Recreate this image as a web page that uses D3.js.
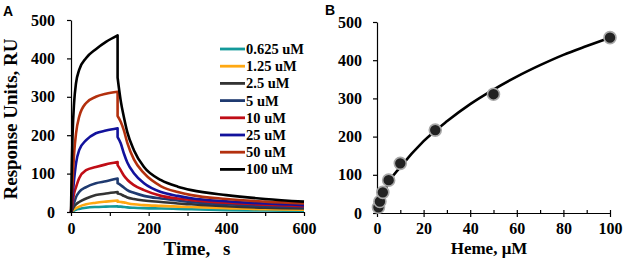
<!DOCTYPE html>
<html>
<head>
<meta charset="utf-8">
<script src="https://cdn.jsdelivr.net/npm/d3@7"></script>
<style>
  html, body { margin: 0; padding: 0; background: #fff; }
  svg text { font-family: "Liberation Serif", "Times New Roman", serif; font-weight: bold; fill: #000; }
</style>
</head>
<body>
<svg id="chart" width="624" height="263"></svg>
<script>
// ---- panel A: sensorgrams ----
const concLabels = ["0.625 uM", "1.25 uM", "2.5 uM", "5 uM", "10 uM", "25 uM", "50 uM", "100 uM"];
const concColors = ["#13999a", "#ffa812", "#333333", "#1f3a70", "#c00d16", "#12129c", "#b3300e", "#000000"];

const assocTimes = [0, 2, 4, 8, 13, 21, 39, 64, 90, 120];
const dissocTimes = [120, 128, 136, 145, 162, 188, 232, 275, 310, 400, 500, 600];

const assocValues = [
    [0, 1, 2, 4, 6, 8, 11, 13, 14, 15],
    [0, 2, 4, 7, 10, 14, 20, 24, 27, 30],
    [0, 3, 7, 14, 20, 26, 35, 44, 48, 52],
    [0, 5, 12, 24, 39, 52, 65, 75, 80, 87],
    [0, 10, 24, 48, 65, 88, 109, 117, 124, 130],
    [0, 20, 42, 85, 127, 161, 187, 205, 212, 218],
    [0, 40, 78, 152, 205, 248, 284, 300, 308, 313],
    [0, 120, 200, 285, 336, 370, 401, 424, 443, 460]
];
const dissocValues = [
    [14, 14, 13, 12, 11, 10, 9, 8, 7, 5, 4, 3],
    [27, 26, 25, 23, 20, 18, 16, 14, 13, 10, 7, 6],
    [48, 46, 42, 38, 34, 30, 26, 22, 20, 15, 11, 9],
    [75, 70, 64, 57, 50, 42, 35, 30, 26, 20, 15, 12],
    [122, 109, 95, 84, 70, 57, 42, 35, 31, 24, 19, 15],
    [195, 179, 153, 129, 101, 75, 52, 42, 36, 28, 22, 18],
    [250, 235, 213, 180, 137, 101, 67, 52, 44, 34, 27, 22],
    [350, 290, 248, 208, 161, 117, 83, 66, 57, 44, 34, 27]
];

const timeTicks = [0, 200, 400, 600];
const ruTicks = [0, 100, 200, 300, 400, 500];

// ---- panel B: binding isotherm ----
const hemeConc = [0.625, 1.25, 2.5, 5, 10, 25, 50, 100];
const hemeResp = [15, 30, 54, 86, 130, 217, 311, 459];
// fitted curve
const fitConc = [0, 1, 2.5, 5, 10, 20, 30, 40, 50, 60, 70, 80, 90, 100];
const fitResp = [0, 22, 45, 80, 120, 188, 240, 285, 323, 357, 387, 414, 437, 459];
const hemeTicks = [0, 20, 40, 60, 80, 100];
const hemeMinor = [10, 30, 50, 70, 90];

const svg = d3.select("#chart");
const serif = "'Liberation Serif', 'Times New Roman', serif";

function styleAxis(ax) {
    ax.attr("font-family", null).attr("font-size", null);
    ax.select(".domain").attr("stroke", "#000").attr("stroke-width", 1.2);
    ax.selectAll(".tick line").attr("stroke", "#000").attr("stroke-width", 1.2);
    ax.selectAll("text")
      .style("font-family", serif)
      .style("font-weight", "bold")
      .style("font-size", "16px")
      .attr("fill", "#000");
}

// ================= panel A =================
const xA = d3.scaleLinear().domain([0, 600]).range([71, 304]);
const yA = d3.scaleLinear().domain([0, 500]).range([212, 20]);

const gA = svg.append("g");

const lineA = d3.line()
    .x(d => xA(d[0]))
    .y(d => yA(d[1]))
    .curve(d3.curveMonotoneX);

concLabels.forEach((lab, i) => {
    const a = assocTimes.map((t, j) => [t, assocValues[i][j]]);
    const b = dissocTimes.map((t, j) => [t, dissocValues[i][j]]);
    const path = lineA(a) + lineA(b).replace(/^M/, "L");
    gA.append("path")
      .attr("d", path)
      .attr("fill", "none")
      .attr("stroke", concColors[i])
      .attr("stroke-width", 2.6)
      .attr("stroke-linejoin", "round");
});

const axAx = gA.append("g")
    .attr("transform", `translate(0,${yA(0)})`)
    .call(d3.axisBottom(xA).tickValues(d3.range(0, 601, 100)).tickSize(4).tickSizeOuter(0).tickPadding(7)
        .tickFormat(d => timeTicks.includes(d) ? d : ""));
const axAy = gA.append("g")
    .attr("transform", `translate(${xA(0)},0)`)
    .call(d3.axisLeft(yA).tickValues(ruTicks).tickSize(4).tickSizeOuter(0).tickPadding(12));
styleAxis(axAx);
styleAxis(axAy);

gA.append("text")
  .attr("transform", "translate(17,119) rotate(-90)")
  .attr("text-anchor", "middle")
  .attr("font-size", 19)
  .text("Response Units, RU");

gA.append("text")
  .attr("x", 197)
  .attr("y", 255)
  .attr("text-anchor", "middle")
  .attr("font-size", 19)
  .attr("word-spacing", 8)
  .text("Time, s");

// legend
const legend = gA.append("g");
concLabels.forEach((lab, i) => {
    const y = 49 + i * 17.2;
    legend.append("line")
      .attr("x1", 220).attr("x2", 245)
      .attr("y1", y).attr("y2", y)
      .attr("stroke", concColors[i])
      .attr("stroke-width", 2.8);
    legend.append("text")
      .attr("x", 246)
      .attr("y", y + 5)
      .attr("font-size", 14.5)
      .text(lab);
});

svg.append("text")
  .attr("x", 3).attr("y", 16)
  .style("font-family", "'Liberation Sans', Arial, sans-serif")
  .attr("font-size", 14)
  .text("A");

// ================= panel B =================
const xB = d3.scaleLinear().domain([0, 100]).range([377, 610]);
const yB = d3.scaleLinear().domain([0, 500]).range([213, 22]);

const gB = svg.append("g");

const bxAx = gB.append("g")
    .attr("transform", `translate(0,${yB(0)})`)
    .call(d3.axisBottom(xB).tickValues(hemeTicks).tickSize(4).tickSizeOuter(0).tickPadding(6));
bxAx.selectAll(".tick line").attr("y1", -3);

const bxMinor = gB.append("g")
    .attr("transform", `translate(0,${yB(0)})`)
    .call(d3.axisTop(xB).tickValues(hemeMinor).tickSize(3).tickSizeOuter(0).tickFormat(""))
    .call(g => g.select(".domain").remove());

const byAx = gB.append("g")
    .attr("transform", `translate(${xB(0)},0)`)
    .call(d3.axisLeft(yB).tickValues(ruTicks).tickSize(4).tickSizeOuter(0).tickPadding(11));
styleAxis(bxAx);
styleAxis(byAx);
bxMinor.selectAll(".tick line").attr("stroke", "#000").attr("stroke-width", 1.2);

const fitLine = d3.line()
    .x(d => xB(d[0]))
    .y(d => yB(d[1]))
    .curve(d3.curveMonotoneX);

gB.append("path")
  .attr("d", fitLine(fitConc.map((c, i) => [c, fitResp[i]])))
  .attr("fill", "none")
  .attr("stroke", "#000")
  .attr("stroke-width", 2.6);

gB.selectAll("circle")
  .data(hemeConc.map((c, i) => [c, hemeResp[i]]))
  .enter()
  .append("circle")
  .attr("cx", d => xB(d[0]))
  .attr("cy", d => yB(d[1]))
  .attr("r", 6)
  .attr("fill", "#222")
  .attr("stroke", "#a8a8a8")
  .attr("stroke-width", 1.6);

gB.append("text")
  .attr("x", 489)
  .attr("y", 254)
  .attr("text-anchor", "middle")
  .attr("font-size", 17)
  .text("Heme, μM");

svg.append("text")
  .attr("x", 325).attr("y", 15)
  .style("font-family", "'Liberation Sans', Arial, sans-serif")
  .attr("font-size", 14)
  .text("B");
</script>
</body>
</html>
